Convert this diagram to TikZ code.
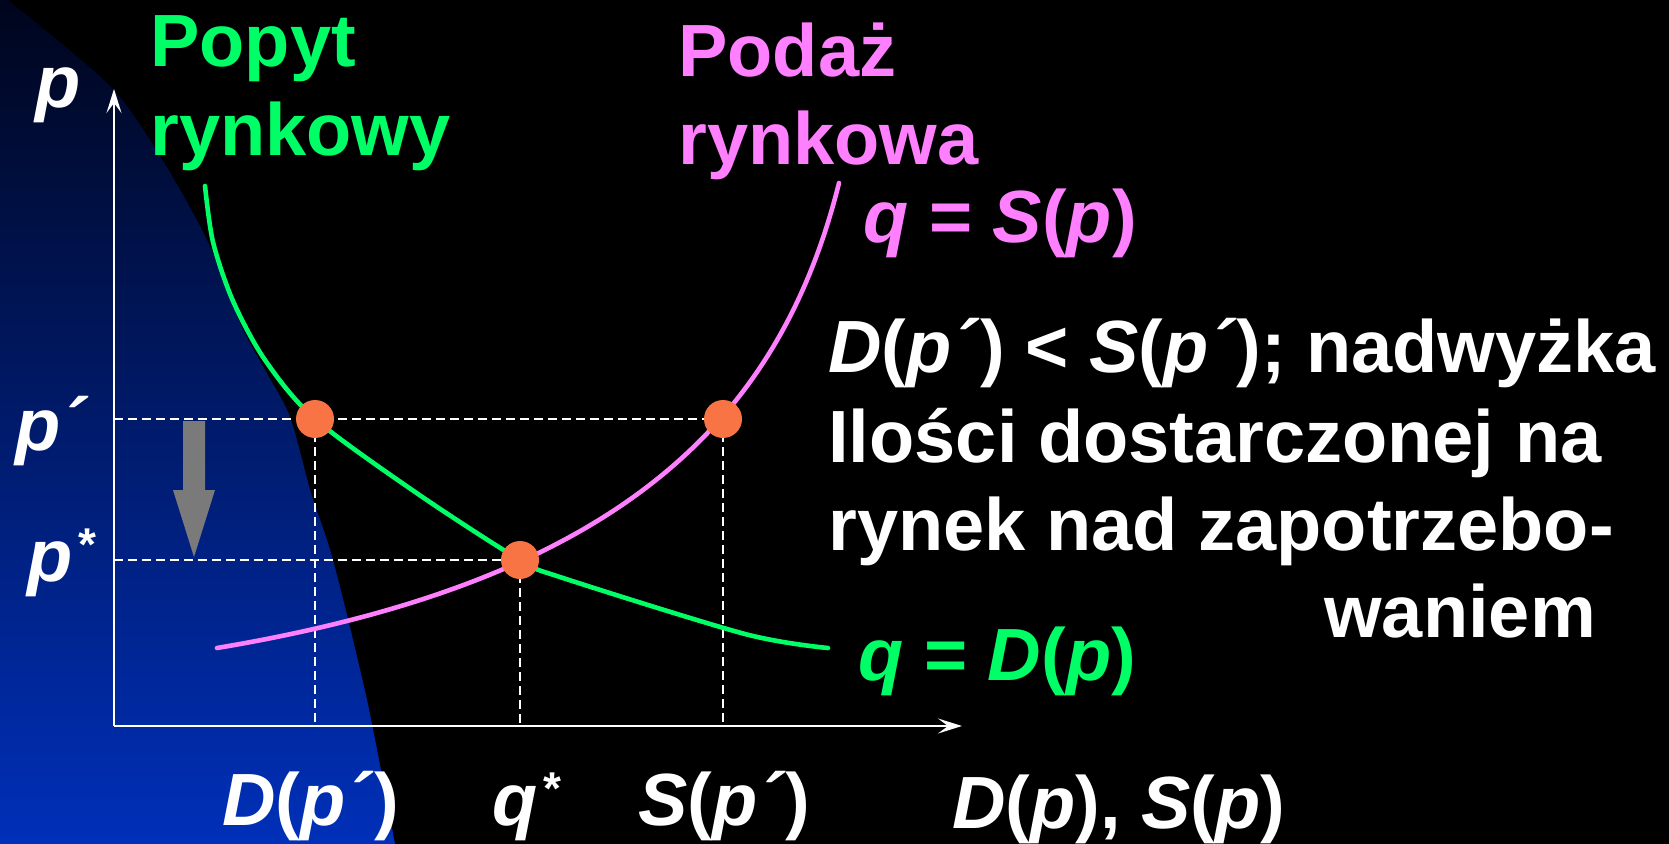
\documentclass[tikz,border=0pt]{standalone}
\usepackage{fontspec}
\setmainfont{Liberation Sans}
\usetikzlibrary{arrows.meta}
\definecolor{popyt}{RGB}{0,255,102}
\definecolor{podaz}{RGB}{255,128,255}
\definecolor{pomarancz}{RGB}{248,116,68}
\definecolor{szary}{RGB}{122,122,122}
\definecolor{tlogora}{RGB}{0,5,28}
\definecolor{tlodol}{RGB}{0,48,185}
\newcommand{\zm}[1]{\textit{#1}}
\newcommand{\gw}{\hspace{3pt}\raisebox{10.5pt}{\fontsize{23}{23}\selectfont *}}

\begin{document}
\begin{tikzpicture}[x=0.5pt,y=-0.5pt,
  tekst/.style={anchor=base west,inner sep=0pt,text=white,
    font=\fontsize{37}{44.5}\selectfont\bfseries},
  os/.style={white,line width=1pt,-{Stealth[length=12pt,width=7.5pt,inset=5pt]}},
  kreska/.style={white,line width=1pt,dash pattern=on 4.5pt off 2.5pt},
  krzywa/.style={line width=2.3pt,line cap=round},
  punkt/.style={circle,fill=pomarancz,inner sep=0pt,minimum size=19pt}]

% =========================
% TLO
% =========================

\fill[black] (0,0) rectangle (1669,844);
\shade[top color=tlogora,bottom color=tlodol] (0,844) -- (0,0)
  -- plot[smooth] coordinates {(8,0) (110,86) (163,161) (208,242) (240,323)
     (265,370) (290,417) (311,493) (333,560) (367,700) (395,844)} -- cycle;

% =========================
% PUNKTY
% =========================

\coordinate (o) at (114,726);
\coordinate (ykon) at (114,89);
\coordinate (xkon) at (962,726);
\coordinate (e1) at (315,419);
\coordinate (e2) at (520,560);
\coordinate (e3) at (723,419);

% =========================
% OSIE I LINIE POMOCNICZE
% =========================

\draw[os] (o) -- (ykon);
\draw[os] (o) -- (xkon);

\draw[kreska] (o |- e3) -- (e3);
\draw[kreska] (o |- e2) -- (e2);
\draw[kreska] (e1) -- (e1 |- o);
\draw[kreska] (e2) -- (e2 |- o);
\draw[kreska] (e3) -- (e3 |- o);

% strzalka w dol
\fill[szary] (183,421) -- (205,421) -- (205,490) -- (215,490)
  -- (194,557) -- (173,490) -- (183,490) -- cycle;

% =========================
% KRZYWE
% =========================

% popyt
\draw[krzywa,popyt] plot[smooth] coordinates {(205,186) (213,242) (233,301)
  (265,360) (315,419) (418,494) (520,560) (563,578) (745,634) (828,648)};

% podaz
\draw[krzywa,podaz] (217,648) .. controls (617,581) and (779,423) .. (839,183);

\node[punkt] (k1) at (e1) {};
\node[punkt] (k2) at (e2) {};
\node[punkt] (k3) at (e3) {};

% =========================
% NAPISY
% =========================

\node[tekst] (osp) at (35,108) {\zm{p}};
\node[tekst] (pprim) at (15,450) {\zm{p´}};
\node[tekst] (pgw) at (27,581) {\zm{p}\gw};

\node[tekst,text=popyt] (popyt1) at (150,67) {Popyt};
\node[tekst,text=popyt] (popyt2) at (150,156) {rynkowy};
\node[tekst,text=podaz] (podaz1) at (678,77) {Podaż};
\node[tekst,text=podaz] (podaz2) at (678,165) {rynkowa};

\node[tekst,text=podaz] (rowS) at (863,243) {\zm{q} = \zm{S}(\zm{p})};
\node[tekst,text=popyt] (rowD) at (858,680) {\zm{q} = \zm{D}(\zm{p})};

\node[tekst] (opis1) at (828,372) {\zm{D}(\zm{p´}) < \zm{S}(\zm{p´}); nadwyżka};
\node[tekst] (opis2) at (828,462) {Ilości dostarczonej na};
\node[tekst] (opis3) at (828,550) {rynek nad zapotrzebo-};
\node[tekst] (opis4) at (1324,637) {waniem};

\node[tekst] (lDp) at (222,825) {\zm{D}(\zm{p´})};
\node[tekst] (lq) at (492,825) {\zm{q}\gw};
\node[tekst] (lSp) at (638,825) {\zm{S}(\zm{p´})};
\node[tekst] (losx) at (952,828) {\zm{D}(\zm{p}), \zm{S}(\zm{p})};
\end{tikzpicture}
\end{document}
